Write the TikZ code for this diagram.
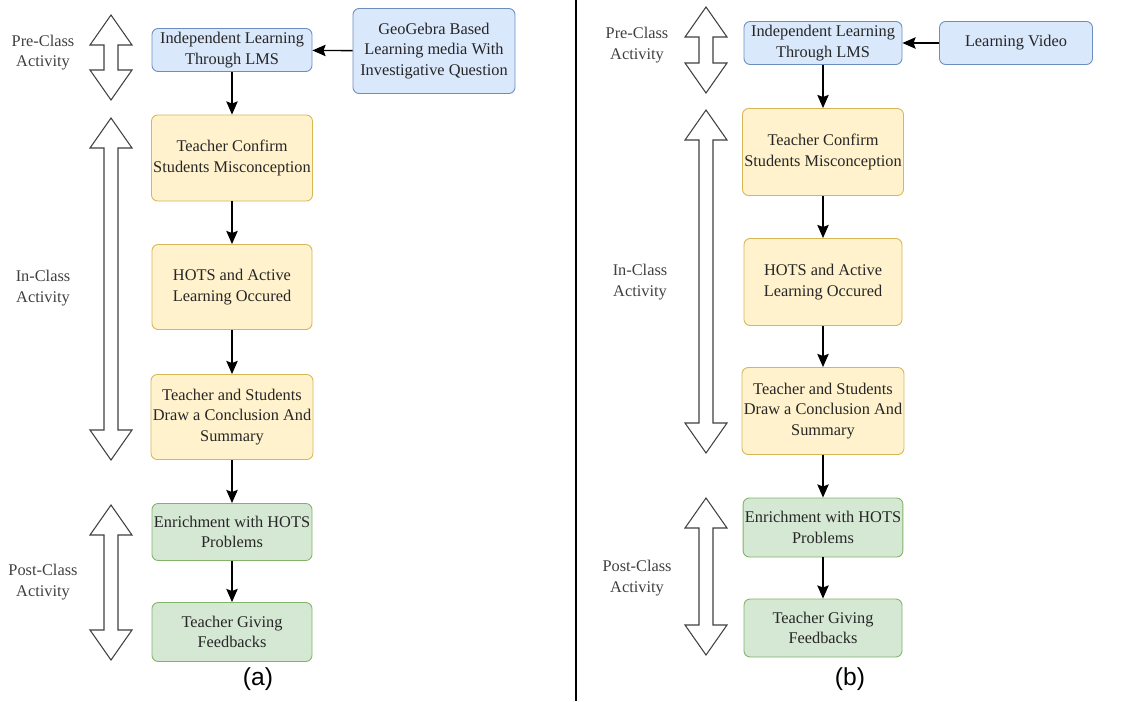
\documentclass[tikz,border=0pt]{standalone}
\usepackage{fontspec}
\setmainfont{Liberation Serif}
\newfontfamily\capfont{Liberation Sans}
\usetikzlibrary{arrows.meta}

\definecolor{blufill}{HTML}{DAE8FC}
\definecolor{bluline}{HTML}{6C8EBF}
\definecolor{yelfill}{HTML}{FFF2CC}
\definecolor{yelline}{HTML}{D6B656}
\definecolor{grnfill}{HTML}{D5E8D4}
\definecolor{grnline}{HTML}{82B366}

\tikzset{
  blk/.style={draw, rounded corners=3.5pt, align=center, inner sep=1pt,
    text=black!85, font=\fontsize{9.3}{11.6}\selectfont, line width=0.5pt},
  blueblk/.style={blk, fill=blufill, draw=bluline},
  yellowblk/.style={blk, fill=yelfill, draw=yelline},
  greenblk/.style={blk, fill=grnfill, draw=grnline},
  phase/.style={align=center, text=black!75, font=\fontsize{9.3}{11.6}\selectfont},
  flow/.style={-{Stealth[length=7.5pt,width=6.5pt,inset=1.2pt]}, line width=0.8pt},
  phasearr/.style={draw=black!75, fill=white, line width=0.6pt, line join=miter}
}

% double arrow: x, top y, bottom y
\newcommand{\phasearrow}[3]{%
  \draw[phasearr] (#1-0.14,#2-0.6) -- (#1-0.42,#2-0.6) -- (#1,#2)
    -- (#1+0.42,#2-0.6) -- (#1+0.14,#2-0.6) -- (#1+0.14,#3+0.6)
    -- (#1+0.42,#3+0.6) -- (#1,#3) -- (#1-0.42,#3+0.6)
    -- (#1-0.14,#3+0.6) -- cycle;}

\begin{document}
\begin{tikzpicture}
\useasboundingbox (0,0) rectangle (22.96,-14.02);

% (a)
\phasearrow{2.22}{-0.30}{-2.00}
\phasearrow{2.22}{-2.36}{-9.20}
\phasearrow{2.22}{-10.10}{-13.20}
\node[phase] (preA) at (0.86,-1.05) {Pre-Class\\Activity};
\node[phase] (inA) at (0.86,-5.76) {In-Class\\Activity};
\node[phase] (postA) at (0.86,-11.64) {Post-Class\\Activity};

\node[blueblk, minimum width=3.2cm, minimum height=0.86cm] (indepA) at (4.64,-1.0) {Independent Learning\\Through LMS};
\node[blueblk, minimum width=3.24cm, minimum height=1.70cm] (geoA) at (8.68,-1.02) {GeoGebra Based\\Learning media With\\Investigative Question};
\node[yellowblk, minimum width=3.2cm, minimum height=1.72cm] (confirmA) at (4.64,-3.16) {Teacher Confirm\\Students Misconception};
\node[yellowblk, minimum width=3.2cm, minimum height=1.70cm] (hotsA) at (4.64,-5.74) {HOTS and Active\\Learning Occured};
\node[yellowblk, minimum width=3.2cm, minimum height=1.70cm] (conclA) at (4.64,-8.34) {Teacher and Students\\Draw a Conclusion And\\Summary};
\node[greenblk, minimum width=3.2cm, minimum height=1.14cm] (enrichA) at (4.64,-10.64) {Enrichment with HOTS\\Problems};
\node[greenblk, minimum width=3.2cm, minimum height=1.18cm] (feedA) at (4.64,-12.64) {Teacher Giving\\Feedbacks};

\draw[flow] (geoA) -- (indepA);
\draw[flow] (indepA) -- (confirmA);
\draw[flow] (confirmA) -- (hotsA);
\draw[flow] (hotsA) -- (conclA);
\draw[flow] (conclA) -- (enrichA);
\draw[flow] (enrichA) -- (feedA);

\node[font=\capfont\fontsize{14}{16}\selectfont] (capA) at (5.16,-13.58) {(a)};

% divider
\draw[line width=1.2pt] (11.52,0) -- (11.52,-14.02);

% (b)
\phasearrow{14.12}{-0.14}{-1.86}
\phasearrow{14.12}{-2.20}{-9.06}
\phasearrow{14.12}{-9.96}{-13.10}
\node[phase] (preB) at (12.74,-0.90) {Pre-Class\\Activity};
\node[phase] (inB) at (12.80,-5.64) {In-Class\\Activity};
\node[phase] (postB) at (12.74,-11.56) {Post-Class\\Activity};

\node[blueblk, minimum width=3.16cm, minimum height=0.86cm] (indepB) at (16.46,-0.86) {Independent Learning\\Through LMS};
\node[blueblk, minimum width=3.06cm, minimum height=0.86cm] (videoB) at (20.32,-0.86) {Learning Video};
\node[yellowblk, minimum width=3.16cm, minimum height=1.74cm] (confirmB) at (16.46,-3.04) {Teacher Confirm\\Students Misconception};
\node[yellowblk, minimum width=3.16cm, minimum height=1.74cm] (hotsB) at (16.46,-5.64) {HOTS and Active\\Learning Occured};
\node[yellowblk, minimum width=3.16cm, minimum height=1.74cm] (conclB) at (16.46,-8.22) {Teacher and Students\\Draw a Conclusion And\\Summary};
\node[greenblk, minimum width=3.16cm, minimum height=1.18cm] (enrichB) at (16.46,-10.55) {Enrichment with HOTS\\Problems};
\node[greenblk, minimum width=3.16cm, minimum height=1.16cm] (feedB) at (16.46,-12.56) {Teacher Giving\\Feedbacks};

\draw[flow] (videoB) -- (indepB);
\draw[flow] (indepB) -- (confirmB);
\draw[flow] (confirmB) -- (hotsB);
\draw[flow] (hotsB) -- (conclB);
\draw[flow] (conclB) -- (enrichB);
\draw[flow] (enrichB) -- (feedB);

\node[font=\capfont\fontsize{14}{16}\selectfont] (capB) at (17.0,-13.58) {(b)};
\end{tikzpicture}
\end{document}
